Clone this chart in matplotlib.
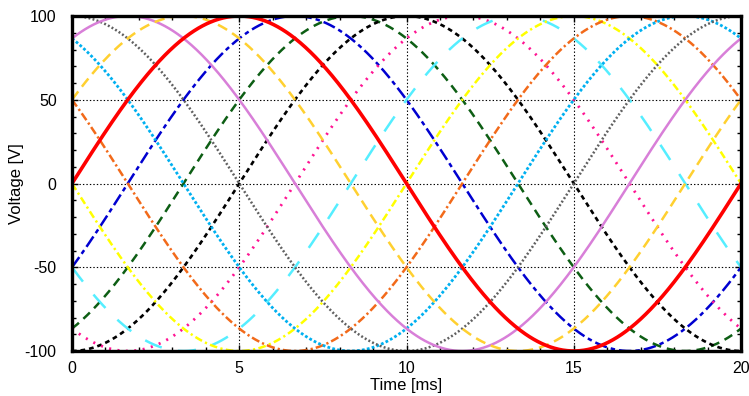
"""Twelve phase-shifted 50 Hz voltages"""
import matplotlib
matplotlib.use("Agg")
import matplotlib.pyplot as plt
import numpy as np

AMPLITUDE = 100          # V
FREQUENCY = 50           # Hz
PHASES = [0, 30, 60, 90, 120, 150, 180, 210, 240, 270, 300, 330]  # degrees
COLORS = ['#ff0000', '#ffd030', '#d87fd8', '#606060', '#00b0f0', '#f26a1a',
          '#ffff00', '#55eeff', '#ff1493', '#000000', '#0d5e14', '#0000d0']
DASHES = [None, (7.5, 4.3), None, (1.4, 1.6), (2.0, 1.6), (6.0, 2.2, 1.6, 2.2),
          (5.5, 2.4, 1.6, 2.4), (13, 12), (1.5, 4.6), (3.4, 2.8),
          (6.5, 4.3), (9.0, 2.9, 3.2, 2.9)]
WIDTHS = [2.6, 1.8, 1.8, 1.8, 2.0, 1.8, 1.8, 1.8, 2.0, 1.9, 1.8, 1.8]
X_TICKS = [0, 5, 10, 15, 20]
Y_TICKS = [-100, -50, 0, 50, 100]

plt.rcParams['font.family'] = ['Liberation Sans', 'DejaVu Sans']
plt.rcParams['font.size'] = 11.5
plt.rcParams['axes.unicode_minus'] = False
plt.rcParams['lines.scale_dashes'] = False

fig = plt.figure(figsize=(7.49, 3.96), dpi=100)
ax = fig.add_axes([72 / 749, 45 / 396, 669 / 749, 335 / 396])

t_ms = np.linspace(0, 20, 801)
for phase, color, dash, lw in reversed(list(zip(PHASES, COLORS, DASHES, WIDTHS))):
    v = AMPLITUDE * np.sin(2 * np.pi * FREQUENCY * t_ms / 1000 + np.radians(phase))
    line, = ax.plot(t_ms, v, color=color, lw=lw)
    if dash is not None:
        line.set_dashes(dash)

ax.set_xlim(0, 20)
ax.set_ylim(-100, 100)
ax.set_xticks(X_TICKS)
ax.set_yticks(Y_TICKS)
ax.set_xticks(np.arange(0, 21, 1), minor=True)
ax.set_yticks(np.arange(-100, 101, 10), minor=True)
ax.tick_params(which='both', direction='in', top=True, right=True, width=1)
ax.tick_params(which='major', length=4)
ax.tick_params(which='minor', length=3)
ax.tick_params(axis='x', pad=7)
ax.tick_params(axis='y', pad=11)
ax.grid(True, which='major', color='black', lw=0.8, linestyle=(0, (1, 1.5)))
for spine in ax.spines.values():
    spine.set_linewidth(2.4)

ax.set_xlabel('Time [ms]', fontsize=12)
ax.set_ylabel('Voltage [V]', fontsize=12)
ax.xaxis.set_label_coords(0.5, -0.08)
ax.yaxis.set_label_coords(-0.072, 0.5)

fig.savefig('out.png', dpi=100)
